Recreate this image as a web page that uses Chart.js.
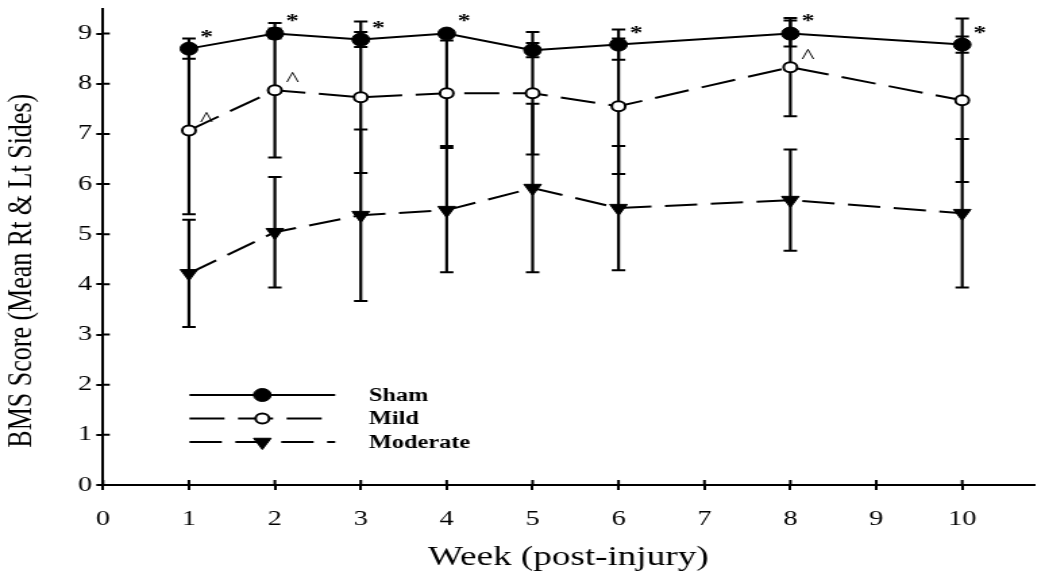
<!DOCTYPE html>
<html>
<head>
<meta charset="utf-8">
<title>BMS Score</title>
<script src="https://cdn.jsdelivr.net/npm/chart.js@4.4.0/dist/chart.umd.min.js"></script>
<style>
html, body { margin: 0; padding: 0; background: #fff; overflow: hidden; }
#wrap { width: 1045px; height: 579px; overflow: hidden; }
/* the original figure is stretched sideways, so the canvas is too */
#grafico { transform: scaleX(1.3501); transform-origin: 0 0; }
</style>
</head>
<body>
<div id="wrap"><canvas id="grafico" width="774" height="579"></canvas></div>
<script>
// values
var weeks = [1, 2, 3, 4, 5, 6, 8, 10];
var sham = [8.70, 9.00, 8.88, 9.00, 8.67, 8.78, 9.00, 8.78];
var shamSD = [0.20, 0.10, 0.15, 0.00, 0.14, 0.30, 0.26, 0.16];
var mild = [7.07, 7.87, 7.73, 7.81, 7.81, 7.55, 8.33, 7.67];
var mildSD = [1.67, 1.34, 1.51, 1.05, 1.22, 1.35, 0.98, 1.63];
var moderate = [4.22, 5.04, 5.38, 5.48, 5.92, 5.52, 5.68, 5.42];
var moderateSD = [1.07, 1.10, 1.71, 1.24, 1.68, 1.24, 1.01, 1.48];
// significance marks: * over sham, ^ over mild
var shamStar = [1, 1, 1, 1, 0, 1, 1, 1];
var mildCaret = [1, 1, 0, 0, 0, 0, 1, 0];

var xTicks = [0, 1, 2, 3, 4, 5, 6, 7, 8, 9, 10];
var yTicks = [0, 1, 2, 3, 4, 5, 6, 7, 8, 9];
var seriesNames = ['Sham', 'Mild', 'Moderate'];

var FONT = '"Liberation Serif", "Times New Roman", serif';

function pontos(vals) {
    return weeks.map(function(w, i) { return { x: w, y: vals[i] }; });
}

var errors = [shamSD, mildSD, moderateSD];
var marks = [{ list: shamStar, text: '*', font: 'bold 19px ' + FONT, dx: 13, dy: -15 },
             { list: mildCaret, text: '^', font: '21px ' + FONT, dx: 13, dy: -14 }];

// error bars behind the markers
var errorBars = {
    id: 'errorBars',
    beforeDatasetsDraw: function(chart) {
        var ctx = chart.ctx, sx = chart.scales.x, sy = chart.scales.y;
        ctx.save();
        ctx.strokeStyle = '#000';
        chart.data.datasets.forEach(function(ds, d) {
            ds.data.forEach(function(p, i) {
                var sd = errors[d][i];
                if (!sd) return;
                var px = sx.getPixelForValue(p.x);
                var lo = sy.getPixelForValue(p.y - sd);
                var hi = sy.getPixelForValue(p.y + sd);
                ctx.lineWidth = 2.2;
                ctx.beginPath();
                ctx.moveTo(px, lo); ctx.lineTo(px, hi);
                ctx.stroke();
                ctx.lineWidth = 2;
                ctx.beginPath();
                ctx.moveTo(px - 5, lo); ctx.lineTo(px + 5, lo);
                ctx.moveTo(px - 5, hi); ctx.lineTo(px + 5, hi);
                ctx.stroke();
            });
        });
        // tick marks crossing into the plot
        var a = chart.chartArea;
        ctx.lineWidth = 2;
        ctx.beginPath();
        sy.ticks.forEach(function(t) {
            var py = sy.getPixelForValue(t.value);
            ctx.moveTo(a.left, py); ctx.lineTo(a.left + 5, py);
        });
        sx.ticks.forEach(function(t) {
            var px = sx.getPixelForValue(t.value);
            ctx.moveTo(px, a.bottom); ctx.lineTo(px, a.bottom - 5);
        });
        ctx.stroke();
        ctx.restore();
    }
};

// * and ^ next to the points
var sigMarks = {
    id: 'sigMarks',
    afterDatasetsDraw: function(chart) {
        var ctx = chart.ctx;
        ctx.save();
        ctx.fillStyle = '#000';
        ctx.textAlign = 'center';
        ctx.textBaseline = 'middle';
        marks.forEach(function(m, d) {
            var meta = chart.getDatasetMeta(d);
            ctx.font = m.font;
            m.list.forEach(function(on, i) {
                if (!on) return;
                var el = meta.data[i];
                ctx.fillText(m.text, el.x + m.dx, el.y + m.dy + 4);
            });
        });
        ctx.restore();
    }
};

// legend inside the plot, lower left
var legendBox = {
    id: 'legendBox',
    afterDraw: function(chart) {
        var ctx = chart.ctx, a = chart.chartArea;
        var x1 = a.left + 64, x2 = a.left + 172, xm = a.left + 118, xt = a.left + 197;
        var y0 = a.bottom - 90, step = 23.5;
        ctx.save();
        chart.data.datasets.forEach(function(ds, i) {
            var yy = y0 + i * step;
            ctx.strokeStyle = '#000';
            ctx.lineWidth = 2;
            ctx.setLineDash(ds.borderDash || []);
            ctx.beginPath(); ctx.moveTo(x1, yy); ctx.lineTo(x2, yy); ctx.stroke();
            ctx.setLineDash([]);
            ctx.beginPath();
            if (ds.pointStyle === 'triangle') {
                var r = ds.pointRadius;
                ctx.moveTo(xm - r * 0.866, yy - r * 0.5);
                ctx.lineTo(xm + r * 0.866, yy - r * 0.5);
                ctx.lineTo(xm, yy + r);
                ctx.closePath();
            } else {
                ctx.arc(xm, yy, ds.pointRadius, 0, Math.PI * 2);
            }
            ctx.fillStyle = ds.pointBackgroundColor;
            ctx.fill();
            ctx.lineWidth = ds.pointBorderWidth;
            ctx.stroke();
            ctx.fillStyle = '#000';
            ctx.font = 'bold 18px ' + FONT;
            ctx.textAlign = 'left';
            ctx.textBaseline = 'middle';
            ctx.fillText(seriesNames[i], xt, yy + 1);
        });
        // y axis title
        ctx.translate(16, (a.top + a.bottom) / 2 + 24);
        ctx.rotate(-Math.PI / 2);
        ctx.font = '26px ' + FONT;
        ctx.textAlign = 'center';
        ctx.fillText('BMS Score (Mean Rt & Lt Sides)', 0, 0);
        ctx.restore();
    }
};

function onlyTicks(list) {
    return function(scale) {
        scale.ticks = list.map(function(v) { return { value: v }; });
    };
}

var ctx = document.getElementById('grafico').getContext('2d');
new Chart(ctx, {
    type: 'line',
    data: {
        datasets: [{
            label: seriesNames[0],
            data: pontos(sham),
            borderColor: '#000',
            borderWidth: 2,
            pointStyle: 'circle',
            pointRadius: 6.5,
            pointBackgroundColor: '#000',
            pointBorderColor: '#000',
            pointBorderWidth: 1
        }, {
            label: seriesNames[1],
            data: pontos(mild),
            borderColor: '#000',
            borderWidth: 2,
            borderDash: [26, 10],
            pointStyle: 'circle',
            pointRadius: 5,
            pointBackgroundColor: '#fff',
            pointBorderColor: '#000',
            pointBorderWidth: 2
        }, {
            label: seriesNames[2],
            data: pontos(moderate),
            borderColor: '#000',
            borderWidth: 2,
            borderDash: [24, 10],
            pointStyle: 'triangle',
            pointRotation: 180,
            pointRadius: 7.5,
            pointBackgroundColor: '#000',
            pointBorderColor: '#000',
            pointBorderWidth: 1
        }]
    },
    options: {
        responsive: false,
        animation: false,
        layout: { padding: { top: 8, left: 0, right: 0, bottom: 0 } },
        plugins: {
            legend: { display: false },
            tooltip: { enabled: false }
        },
        elements: { line: { tension: 0, fill: false } },
        scales: {
            x: {
                type: 'linear',
                min: 0,
                max: 10.83,
                afterBuildTicks: onlyTicks(xTicks),
                afterFit: function(s) { s.height = 94; s.paddingLeft = 0; s.paddingRight = 0; },
                border: { display: true, color: '#000', width: 2 },
                grid: { drawOnChartArea: false, drawTicks: true, tickLength: 5, color: '#000', lineWidth: 2 },
                ticks: { color: '#000', font: { family: FONT, size: 21 }, padding: 17, maxRotation: 0 },
                title: {
                    display: true,
                    text: 'Week (post-injury)',
                    color: '#000',
                    font: { family: FONT, size: 27.5 },
                    padding: { top: 0, bottom: 5 }
                }
            },
            y: {
                type: 'linear',
                min: 0,
                max: 9.5,
                afterBuildTicks: onlyTicks(yTicks),
                afterFit: function(s) { s.width = 76.3; s.paddingTop = 0; s.paddingBottom = 0; },
                border: { display: true, color: '#000', width: 2 },
                grid: { drawOnChartArea: false, drawTicks: true, tickLength: 5, color: '#000', lineWidth: 2 },
                ticks: { color: '#000', font: { family: FONT, size: 21 }, padding: 3 }
            }
        }
    },
    plugins: [errorBars, sigMarks, legendBox]
});
</script>
</body>
</html>
